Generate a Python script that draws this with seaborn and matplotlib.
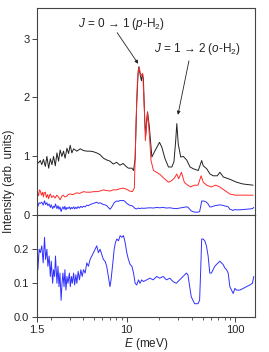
import numpy as np
import pandas as pd
import matplotlib
matplotlib.use("Agg")
import matplotlib.pyplot as plt
from matplotlib.ticker import FixedLocator, FixedFormatter, NullFormatter, LogLocator
import seaborn as sns

# =========================================
# DATA
# =========================================

black_E = [1.50, 1.55, 1.61, 1.66, 1.72, 1.79, 1.85, 1.92, 1.99, 2.06,
           2.13, 2.21, 2.29, 2.37, 2.45, 2.54, 2.63, 2.72, 2.83, 2.93,
           3.03, 3.14, 3.26, 3.49, 3.75, 4.02, 4.31, 4.62, 4.96, 5.32,
           5.71, 6.12, 6.57, 7.04, 7.55, 8.1, 8.7, 9.3, 9.9, 10.4,
           11.2, 11.6, 12.0, 12.4, 12.8, 13.0, 13.3, 13.7, 14.0, 14.3,
           14.7, 15.0, 15.3, 15.6, 16.2, 17.1, 18.3, 20.1, 21.1, 22.6,
           24.3, 26.1, 27.3, 28.3, 29.0, 29.9, 31.5, 33.3, 35.7, 38.4,
           41.1, 45.7, 49.1, 50.8, 54.6, 58.6, 62.8, 68.3, 72.3, 77.6,
           83.4, 89.4, 103, 118, 146]
black_I = [0.91, 0.88, 0.92, 0.85, 0.94, 0.82, 0.99, 0.79, 0.95, 0.85,
           0.99, 0.83, 1.05, 0.91, 1.10, 0.99, 1.08, 0.96, 1.13, 1.04,
           1.18, 1.05, 1.12, 1.08, 1.12, 1.09, 1.08, 1.08, 1.07, 1.05,
           1.02, 0.96, 0.93, 0.91, 0.86, 0.89, 0.84, 0.87, 0.82, 0.79,
           0.79, 0.75, 0.95, 1.90, 2.45, 2.52, 2.40, 2.28, 2.40, 2.30,
           1.60, 1.35, 1.60, 1.75, 1.50, 0.98, 1.09, 1.23, 1.15, 0.95,
           0.81, 0.81, 0.90, 1.25, 1.55, 1.20, 0.98, 0.99, 0.93, 0.81,
           0.78, 0.75, 0.92, 0.83, 0.78, 0.69, 0.66, 0.66, 0.72, 0.64,
           0.62, 0.60, 0.55, 0.52, 0.50]

red_E = [1.50, 1.53, 1.55, 1.58, 1.61, 1.65, 1.69, 1.72, 1.75, 1.79,
         1.83, 1.88, 1.92, 1.96, 1.99, 2.05, 2.13, 2.20, 2.28, 2.36,
         2.45, 2.53, 2.62, 2.70, 2.81, 2.90, 3.03, 3.20, 3.48, 3.70,
         4.02, 4.30, 4.62, 5.00, 5.32, 5.70, 6.12, 6.50, 7.04, 7.50,
         8.10, 8.70, 9.30, 10.0, 10.7, 11.3, 11.8, 12.2, 12.6, 13.0,
         13.6, 14.1, 14.6, 14.9, 15.6, 16.2, 16.8, 17.7, 18.9, 20.4,
         22.0, 24.3, 26.1, 27.5, 29.0, 30.2, 32.0, 34.0, 36.5, 39.0,
         42.0, 45.5, 48.5, 50.8, 54.6, 60.0, 66.0, 72.0, 80.0, 89.0,
         100, 118, 146]
red_I = [0.44, 0.35, 0.32, 0.42, 0.40, 0.33, 0.38, 0.30, 0.37, 0.38,
         0.29, 0.34, 0.27, 0.33, 0.35, 0.29, 0.32, 0.28, 0.33, 0.30,
         0.25, 0.31, 0.33, 0.30, 0.31, 0.34, 0.35, 0.34, 0.37, 0.36,
         0.39, 0.38, 0.38, 0.39, 0.39, 0.40, 0.42, 0.41, 0.40, 0.42,
         0.42, 0.44, 0.45, 0.43, 0.40, 0.39, 0.45, 1.50, 2.30, 2.51,
         2.37, 2.40, 1.77, 1.26, 1.74, 1.37, 0.92, 0.75, 0.72, 0.68,
         0.62, 0.55, 0.58, 0.62, 0.69, 0.61, 0.72, 0.55, 0.50, 0.47,
         0.50, 0.50, 0.66, 0.55, 0.50, 0.47, 0.50, 0.47, 0.41, 0.35,
         0.33, 0.33, 0.33]

blue_E = [1.50, 1.53, 1.57, 1.61, 1.66, 1.71, 1.76, 1.80, 1.85, 1.89,
          1.94, 1.99, 2.03, 2.09, 2.13, 2.18, 2.22, 2.29, 2.34, 2.39,
          2.44, 2.50, 2.55, 2.60, 2.66, 2.71, 2.77, 2.83, 2.89, 2.98,
          3.04, 3.11, 3.17, 3.26, 3.33, 3.42, 3.49, 3.59, 3.69, 3.80,
          3.91, 4.02, 4.16, 4.31, 4.46, 4.62, 4.79, 4.96, 5.14, 5.32,
          5.51, 5.71, 5.91, 6.12, 6.34, 6.57, 6.80, 7.04, 7.20, 7.48,
          7.69, 7.91, 8.14, 8.43, 8.73, 9.04, 9.37, 9.70, 10.05, 10.4,
          10.8, 11.2, 11.6, 12.0, 12.4, 12.9, 13.3, 13.8, 14.3, 15.3,
          16.4, 17.6, 18.9, 20.2, 21.7, 23.3, 25.0, 26.8, 28.7, 30.8,
          33.1, 35.5, 36.7, 38.1, 39.4, 40.8, 42.3, 45.4, 47.0, 48.0,
          49.1, 50.6, 52.4, 54.3, 56.3, 58.3, 60.4, 62.6, 64.8, 69.6,
          72.1, 74.7, 77.4, 80.2, 83.1, 86.1, 89.2, 92.4, 95.7, 99.2,
          102.7, 110.3, 118.3, 126.9, 136.2, 144, 148]
blue_I = [0.25, 0.14, 0.20, 0.19, 0.21, 0.16, 0.235, 0.17, 0.20, 0.15,
          0.18, 0.12, 0.165, 0.10, 0.14, 0.12, 0.18, 0.10, 0.15, 0.09,
          0.13, 0.05, 0.10, 0.13, 0.09, 0.14, 0.08, 0.12, 0.10, 0.13,
          0.09, 0.12, 0.10, 0.13, 0.095, 0.125, 0.10, 0.135, 0.11, 0.14,
          0.12, 0.14, 0.13, 0.16, 0.15, 0.17, 0.18, 0.19, 0.20, 0.21,
          0.19, 0.20, 0.185, 0.17, 0.165, 0.15, 0.12, 0.09, 0.11, 0.16,
          0.20, 0.22, 0.23, 0.225, 0.24, 0.235, 0.24, 0.22, 0.19, 0.17,
          0.155, 0.15, 0.13, 0.10, 0.095, 0.11, 0.10, 0.11, 0.105, 0.11,
          0.115, 0.11, 0.12, 0.115, 0.12, 0.11, 0.115, 0.105, 0.10, 0.11,
          0.12, 0.13, 0.125, 0.09, 0.06, 0.05, 0.04, 0.04, 0.05, 0.13,
          0.23, 0.23, 0.225, 0.21, 0.18, 0.13, 0.13, 0.14, 0.15, 0.16,
          0.165, 0.16, 0.155, 0.145, 0.14, 0.13, 0.09, 0.08, 0.07, 0.085,
          0.08, 0.08, 0.085, 0.09, 0.095, 0.10, 0.12]

x_ticks = [1.5, 10, 100]
x_ticklabels = ["1.5", "10", "100"]
top_yticks = [0, 1, 2, 3]
bot_yticks = [0.0, 0.1, 0.2]

label_p = r"$J$ = 0 → 1 ($p$-H$_2$)"
label_o = r"$J$ = 1 → 2 ($o$-H$_2$)"

# =========================================
# STYLE
# =========================================

sns.set_style("ticks")
plt.rcParams["font.family"] = ["Liberation Sans", "DejaVu Sans"]
plt.rcParams["mathtext.fontset"] = "custom"
plt.rcParams["mathtext.rm"] = "Liberation Sans"
plt.rcParams["mathtext.it"] = "Liberation Sans:italic"
plt.rcParams["axes.edgecolor"] = "#444444"
plt.rcParams["axes.linewidth"] = 0.8

fig = plt.figure(figsize=(2.69, 3.52), dpi=100)
ax1 = fig.add_axes([0.1375, 0.3906, 0.8105, 0.5866])
ax2 = fig.add_axes([0.1375, 0.0985, 0.8105, 0.2921])

lw = 0.7

# =========================================
# TOP PANEL
# =========================================

sns.lineplot(x=black_E, y=black_I, ax=ax1, color="#222222", lw=lw,
             sort=False, estimator=None)
sns.lineplot(x=blue_E, y=blue_I, ax=ax1, color="#3030ff", lw=lw,
             sort=False, estimator=None)
sns.lineplot(x=red_E, y=red_I, ax=ax1, color="#ff2a2a", lw=lw,
             sort=False, estimator=None)

ax1.annotate("", xy=(12.8, 2.57), xytext=(8.2, 3.10),
             arrowprops=dict(arrowstyle="-|>", color="#222222", lw=0.6,
                             mutation_scale=5, shrinkA=0, shrinkB=0))
ax1.text(8.9, 3.24, label_p, ha="center", va="center", fontsize=8.5)

ax1.annotate("", xy=(29.7, 1.70), xytext=(37.5, 2.62),
             arrowprops=dict(arrowstyle="-|>", color="#222222", lw=0.6,
                             mutation_scale=5, shrinkA=0, shrinkB=0))
ax1.text(45.3, 2.83, label_o, ha="center", va="center", fontsize=8.5)

ax1.set_ylim(0, 3.52)
ax1.set_yticks(top_yticks)
ax1.set_yticklabels([str(t) for t in top_yticks])

# =========================================
# BOTTOM PANEL
# =========================================

sns.lineplot(x=blue_E, y=blue_I, ax=ax2, color="#3030ff", lw=lw,
             sort=False, estimator=None)

ax2.set_ylim(0, 0.302)
ax2.set_yticks(bot_yticks)
ax2.set_yticklabels(["%.1f" % t for t in bot_yticks])

# =========================================
# AXES FORMAT
# =========================================

for ax in (ax1, ax2):
    ax.set_xscale("log")
    ax.set_xlim(1.5, 152)
    ax.xaxis.set_major_locator(FixedLocator(x_ticks))
    ax.xaxis.set_minor_locator(LogLocator(base=10, subs=np.arange(2, 10)))
    ax.xaxis.set_minor_formatter(NullFormatter())
    ax.tick_params(axis="both", which="major", direction="out",
                   length=3.5, width=0.7, labelsize=8, pad=2,
                   color="#444444")
    ax.tick_params(axis="x", which="minor", direction="out",
                   length=2.5, width=0.6, color="#444444")
    ax.tick_params(axis="y", which="minor", left=False)
    ax.set_xlabel("")
    ax.set_ylabel("")
    for s in ax.spines.values():
        s.set_visible(True)

ax1.xaxis.set_major_formatter(NullFormatter())
ax2.xaxis.set_major_formatter(FixedFormatter(x_ticklabels))
ax2.set_xlabel(r"$E$ (meV)", fontsize=8.5, labelpad=1)

fig.text(0.035, 0.486, "Intensity (arb. units)", rotation=90,
         ha="center", va="center", fontsize=8.5)

fig.savefig("out.png", dpi=100)
